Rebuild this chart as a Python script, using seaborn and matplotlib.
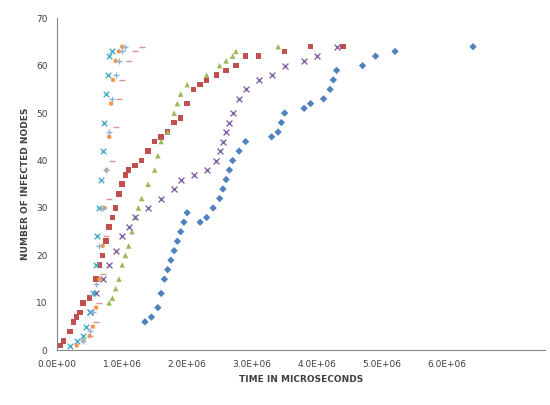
import matplotlib
matplotlib.use("Agg")
import matplotlib.pyplot as plt
import seaborn as sns
import pandas as pd
from matplotlib.ticker import FuncFormatter

sns.set_style("white")

blue_x = [1.35,1.45,1.55,1.6,1.65,1.7,1.75,1.8,1.85,1.9,1.95,2.0,2.2,2.3,2.4,2.5,2.55,2.6,2.65,2.7,2.8,2.9,3.3,3.4,3.45,3.5,3.8,3.9,4.1,4.2,4.25,4.3,4.7,4.9,5.2,6.4]
blue_y = [6,7,9,12,15,17,19,21,23,25,27,29,27,28,30,32,34,36,38,40,42,44,45,46,48,50,51,52,53,55,57,59,60,62,63,64]
red_x = [0.05,0.1,0.2,0.25,0.3,0.35,0.4,0.5,0.6,0.65,0.7,0.75,0.8,0.85,0.9,0.95,1.0,1.05,1.1,1.2,1.3,1.4,1.5,1.6,1.7,1.8,1.9,2.0,2.1,2.2,2.3,2.45,2.6,2.75,2.9,3.1,3.5,3.9,4.4]
red_y = [1,2,4,6,7,8,10,11,15,18,20,23,26,28,30,33,35,37,38,39,40,42,44,45,46,48,49,52,55,56,57,58,59,60,62,62,63,64,64]
green_x = [0.8,0.85,0.9,0.95,1.0,1.05,1.1,1.15,1.2,1.25,1.3,1.4,1.5,1.55,1.6,1.7,1.8,1.85,1.9,2.0,2.3,2.5,2.6,2.7,2.75,3.4]
green_y = [10,11,13,15,18,20,22,25,28,30,32,35,38,41,44,46,50,52,54,56,58,60,61,62,63,64]
purple_x = [0.5,0.6,0.7,0.8,0.9,1.0,1.1,1.2,1.4,1.6,1.8,1.9,2.1,2.3,2.45,2.5,2.55,2.6,2.65,2.7,2.8,2.9,3.1,3.3,3.5,3.8,4.0,4.3]
purple_y = [8,12,15,18,21,24,26,28,30,32,34,36,37,38,40,42,44,46,48,50,53,55,57,58,60,61,62,64]
cyan_x = [0.2,0.3,0.4,0.45,0.5,0.55,0.6,0.62,0.65,0.68,0.7,0.72,0.75,0.78,0.8,0.85]
cyan_y = [1,2,3,5,8,12,18,24,30,36,42,48,54,58,62,63]
orange_x = [0.3,0.4,0.5,0.55,0.6,0.65,0.7,0.73,0.76,0.8,0.83,0.86,0.9,0.95,1.0]
orange_y = [1,2,3,5,9,15,22,30,38,45,52,57,61,63,64]
lblue_x = [0.4,0.5,0.55,0.6,0.65,0.7,0.75,0.8,0.85,0.9,0.95,1.0,1.05]
lblue_y = [2,4,8,14,22,30,38,46,53,58,61,63,64]
pink_x = [0.5,0.6,0.65,0.7,0.75,0.8,0.85,0.9,0.95,1.0,1.1,1.2,1.3]
pink_y = [3,6,10,16,24,32,40,47,53,57,61,63,64]

series = [
    (blue_x, blue_y, "#4F81BD", "D", 14),
    (red_x, red_y, "#C0504D", "s", 16),
    (green_x, green_y, "#9BBB59", "^", 16),
    (purple_x, purple_y, "#8064A2", "x", 18),
    (cyan_x, cyan_y, "#4BACC6", "x", 16),
    (orange_x, orange_y, "#F79646", "o", 10),
    (lblue_x, lblue_y, "#95B3D7", "+", 18),
    (pink_x, pink_y, "#D99694", "_", 14),
]

fig, ax = plt.subplots(figsize=(5.5, 4.05), dpi=100)
fig.subplots_adjust(left=0.104, right=0.99, top=0.955, bottom=0.135)
for xs, ys, c, m, s in series:
    df = pd.DataFrame({"x": [v * 1e6 for v in xs], "y": ys})
    kw = dict(edgecolor="none") if m not in ("x", "+", "_") else dict(linewidth=1)
    sns.scatterplot(data=df, x="x", y="y", color=c, marker=m, s=s, ax=ax, **kw)

ax.set_xlim(0, 7.5e6)
ax.set_ylim(0, 70)
ax.set_xticks([i * 1e6 for i in range(7)])
ax.set_yticks(range(0, 71, 10))
ax.xaxis.set_major_formatter(FuncFormatter(lambda v, p: f"{v/1e6:.1f}E+06" if v else "0.0E+00"))
ax.tick_params(labelsize=6.5, colors="#404040")
ax.set_xlabel("TIME IN MICROSECONDS", fontsize=6.5, fontweight="bold", color="#404040")
ax.set_ylabel("NUMBER OF INFECTED NODES", fontsize=6.5, fontweight="bold", color="#404040")
for sp in ["top", "right"]:
    ax.spines[sp].set_visible(False)
for sp in ["left", "bottom"]:
    ax.spines[sp].set_color("#888888")
fig.savefig("out.png")
